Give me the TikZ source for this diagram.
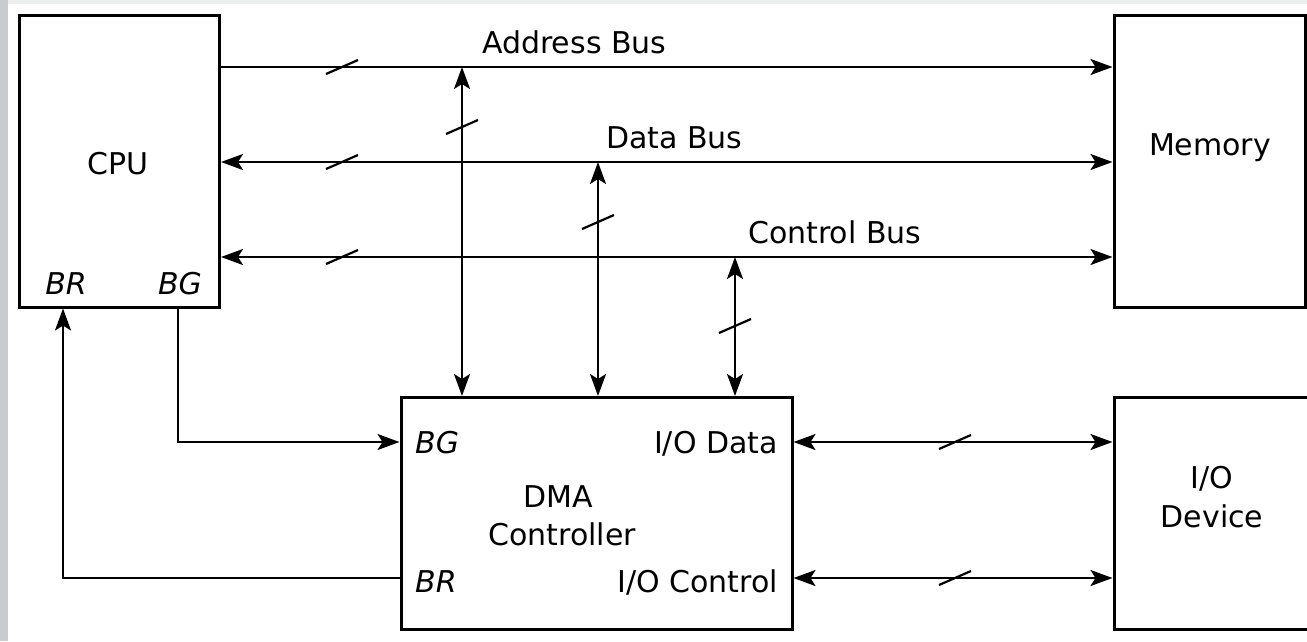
\documentclass[tikz,border=0pt]{standalone}
\usepackage{fontspec}
\setmainfont{DejaVu Sans}
\usetikzlibrary{arrows.meta,calc}
\definecolor{stripgray}{RGB}{200,204,205}
\definecolor{topgray}{RGB}{236,237,237}
\tikzset{
  box/.style={draw, line width=3pt, rectangle, inner sep=0pt},
  conn/.style={line width=2.2pt},
  onearrow/.style={-{Stealth[length=22pt,width=16pt,inset=5pt]}},
  twoarrow/.style={{Stealth[length=22pt,width=16pt,inset=5pt]}-{Stealth[length=22pt,width=16pt,inset=5pt]}},
  lbl/.style={font=\fontsize{30}{36}\selectfont, inner sep=0pt},
  ilbl/.style={font=\fontsize{30}{36}\selectfont\itshape, inner sep=0pt},
  busslash/.pic={\draw[line width=2.2pt] (-16,7) -- (16,-7);}
}
\begin{document}
\begin{tikzpicture}[x=1pt,y=-1pt]
\clip (0,0) rectangle (1307,641);
\fill[white] (0,0) rectangle (1307,641);
\fill[stripgray] (0,0) rectangle (8,641);
\fill[topgray] (8,0) rectangle (1307,4);

% boxes
\node[box, minimum width=200pt, minimum height=292pt] (cpu) at (119.5,161) {};
\node[box, minimum width=191pt, minimum height=292pt] (mem) at (1209.5,161) {};
\node[box, minimum width=391pt, minimum height=232pt] (dma) at (596.5,513.5) {};
\node[box, minimum width=200pt, minimum height=232pt] (io) at (1214,513.5) {};

% texts
\node[lbl, anchor=base] (cputxt) at (118,174) {CPU};
\node[ilbl, anchor=base] (cpubr) at (66,294) {BR};
\node[ilbl, anchor=base] (cpubg) at (180,294) {BG};
\node[lbl, anchor=base] (memtxt) at (1210,155) {Memory};
\node[lbl, anchor=base] (dmatxt1) at (558,507) {DMA};
\node[lbl, anchor=base] (dmatxt2) at (562,545) {Controller};
\node[ilbl, anchor=base west] (dmabg) at (415,453) {BG};
\node[ilbl, anchor=base west] (dmabr) at (415,592) {BR};
\node[lbl, anchor=base east] (iod) at (778,453) {I/O Data};
\node[lbl, anchor=base east] (ioc) at (778,592) {I/O Control};
\node[lbl, anchor=base] (iotxt1) at (1212,488) {I/O};
\node[lbl, anchor=base] (iotxt2) at (1212,527) {Device};
\node[lbl, anchor=base west] (abus) at (482,53) {Address Bus};
\node[lbl, anchor=base west] (dbus) at (606,148) {Data Bus};
\node[lbl, anchor=base west] (cbus) at (748,243) {Control Bus};

% helper coordinates
\coordinate (yA) at (0,67);
\coordinate (yD) at (0,162);
\coordinate (yC) at (0,257);
\coordinate (aJ) at (462,67);
\coordinate (dJ) at (598,162);
\coordinate (cJ) at (735,257);
\coordinate (yIOD) at (0,442);
\coordinate (yIOC) at (0,578);
\coordinate (bgx) at (178,0);
\coordinate (brx) at (63,0);

% buses
\draw[conn,onearrow] (cpu.east |- yA) -- (mem.west |- yA);
\draw[conn,twoarrow] (cpu.east |- yD) -- (mem.west |- yD);
\draw[conn,twoarrow] (cpu.east |- yC) -- (mem.west |- yC);
\draw[conn,twoarrow] (aJ) -- (dma.north -| aJ);
\draw[conn,twoarrow] (dJ) -- (dma.north -| dJ);
\draw[conn,twoarrow] (cJ) -- (dma.north -| cJ);
\draw[conn,twoarrow] (dma.east |- yIOD) -- (io.west |- yIOD);
\draw[conn,twoarrow] (dma.east |- yIOC) -- (io.west |- yIOC);
\draw[conn,onearrow] (cpu.south -| bgx) |- (dma.west |- yIOD);
\draw[conn,onearrow] (dma.west |- yIOC) -| (cpu.south -| brx);

% bus-width slashes
\pic at (342,67) {busslash};
\pic at (342,162) {busslash};
\pic at (342,257) {busslash};
\pic at (462,127) {busslash};
\pic at (598,222) {busslash};
\pic at (735,326) {busslash};
\pic at (955,442) {busslash};
\pic at (955,578) {busslash};
\end{tikzpicture}
\end{document}
